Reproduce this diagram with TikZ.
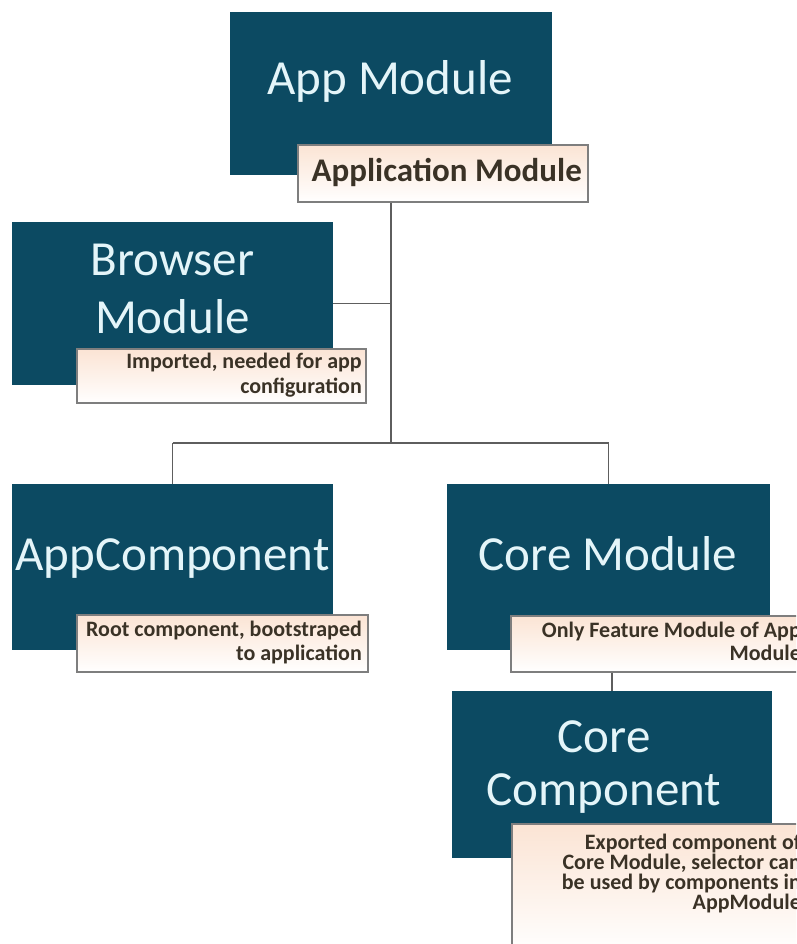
\documentclass[tikz,border=0pt]{standalone}
\usepackage{fontspec}
\setmainfont{Carlito}
\definecolor{boxblue}{HTML}{0C4A62}
\definecolor{boxtext}{HTML}{E4F5F9}
\definecolor{labtextc}{HTML}{3A3226}
\definecolor{peach}{HTML}{FBE4D4}
\definecolor{linegray}{HTML}{5E5E5E}
\definecolor{bordergray}{HTML}{7E7E7E}
\newcommand\mytight{\lineskiplimit=-50pt\relax}
\tikzset{
  mainbox/.style={rectangle, fill=boxblue, draw=none, inner sep=0pt},
  labbox/.style={rectangle, draw=bordergray, line width=1.3pt, top color=peach, bottom color=white, inner sep=0pt},
  maintext/.style={inner sep=0pt, align=center, anchor=base, text=boxtext, font=\fontsize{49}{58}\selectfont},
  labtext/.style={inner sep=0pt, align=right, anchor=base east, text=labtextc, font=\bfseries\fontsize{22}{25}\selectfont\mytight},
  conn/.style={draw=linegray, line width=1.8pt}
}
\begin{document}
\begin{tikzpicture}[x=1pt,y=-1pt]
\useasboundingbox (0,0) rectangle (796,944);
\clip (0,0) rectangle (796,944);
% main boxes
\node[mainbox, minimum width=322pt, minimum height=163pt] (appm) at (391,93.5) {};
\node[mainbox, minimum width=321pt, minimum height=163pt] (brm) at (172.5,303.5) {};
\node[mainbox, minimum width=321pt, minimum height=166pt] (acm) at (172.5,567) {};
\node[mainbox, minimum width=323pt, minimum height=166pt] (cmm) at (608.5,567) {};
\node[mainbox, minimum width=320pt, minimum height=167pt] (ccm) at (612,774.5) {};
% main texts (anchor at baseline of last line)
\node[maintext] (appmt) at (390,95) {App Module};
\node[maintext] (brmt) at (172.5,333) {Browser\\Module};
\node[maintext] (acmt) at (172.5,570) {AppComponent};
\node[maintext] (cmmt) at (608,570) {Core Module};
\node[maintext, font=\fontsize{49}{53}\selectfont] (ccmt) at (604,805) {Core\\Component};
% label boxes
\node[labbox, minimum width=290pt, minimum height=57pt] (appl) at (443,173.5) {};
\node[labbox, minimum width=289pt, minimum height=54pt] (brl) at (221.5,376) {};
\node[labbox, minimum width=291pt, minimum height=57pt] (acl) at (222.5,643.5) {};
\node[labbox, minimum width=292pt, minimum height=56pt] (cml) at (657,644) {};
\node[labbox, minimum width=292pt, minimum height=130pt] (ccl) at (658,889) {};
% label texts (anchor at baseline of last line)
\node[labtext, font=\bfseries\fontsize{33}{36}\selectfont] (applt) at (582,182) {Application Module};
\node[labtext] (brlt) at (362,393) {Imported, needed for app\\configuration};
\node[labtext, font=\bfseries\fontsize{22}{24}\selectfont\mytight] (aclt) at (362,660) {Root component, bootstraped\\to application};
\node[labtext, font=\bfseries\fontsize{22}{23}\selectfont\mytight] (cmlt) at (801,660) {Only Feature Module of App\\Module};
\node[labtext, font=\bfseries\fontsize{22}{20}\selectfont\mytight] (cclt) at (801,909) {Exported component of\\Core Module, selector can\\be used by components in\\AppModule};
% connectors
\coordinate (j) at (391,443);
\draw[conn] (appm.south |- appl.south) -- (j);
\draw[conn] (brm.east) -- (brm.east -| j);
\draw[conn] (acm.north |- j) -- (cmm.north |- j);
\draw[conn] (acm.north |- j) -- (acm.north);
\draw[conn] (cmm.north |- j) -- (cmm.north);
\draw[conn] (cml.south -| ccm.north) -- (ccm.north);
\end{tikzpicture}
\end{document}
